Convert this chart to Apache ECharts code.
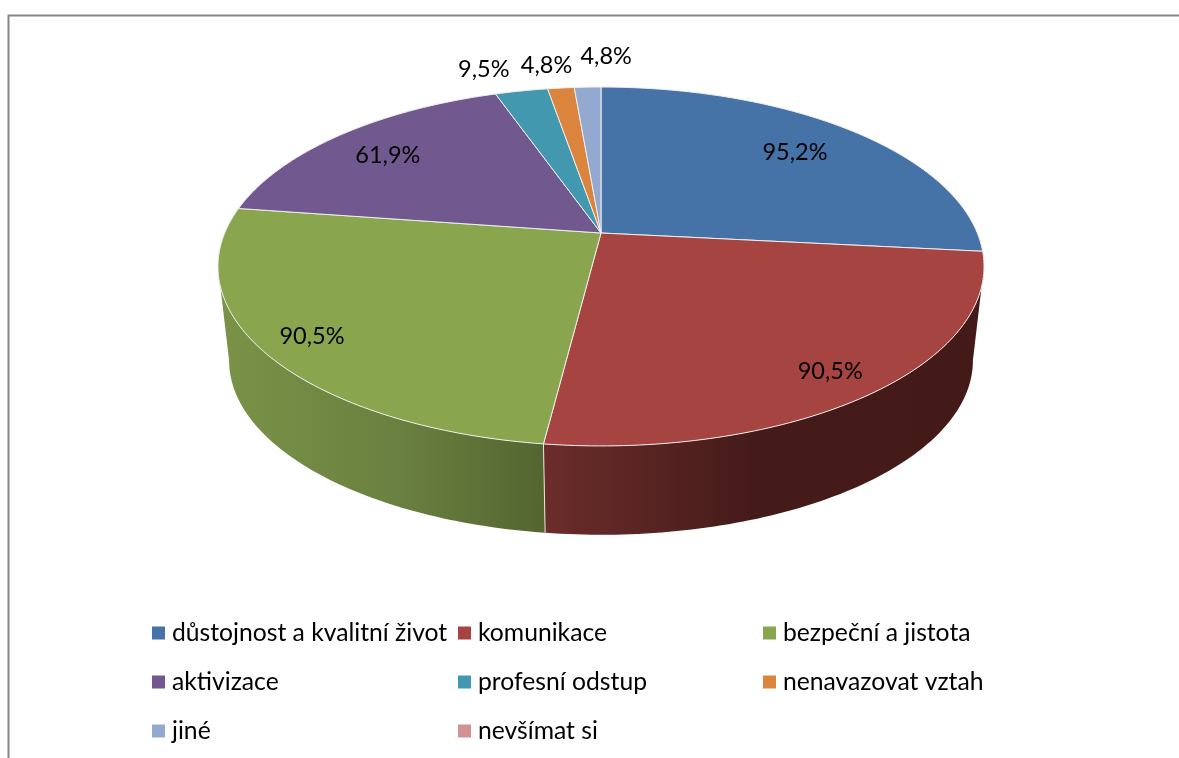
<!DOCTYPE html>
<html>
<head>
<meta charset="utf-8">
<title>pie</title>
<script src="https://cdn.jsdelivr.net/npm/echarts@6/dist/echarts.min.js"></script>
<style>
  html, body { margin: 0; padding: 0; background: #fff; }
  #main { width: 1179px; height: 758px; }
</style>
</head>
<body>
<div id="main"></div>
<script>
// data
const categories = ['důstojnost a kvalitní život', 'komunikace', 'bezpeční a jistota', 'aktivizace',
  'profesní odstup', 'nenavazovat vztah', 'jiné', 'nevšímat si'];
const percents = [95.2, 90.5, 90.5, 61.9, 9.5, 4.8, 4.8, 0];

// colours
const colors = ['#4572a7', '#a64442', '#89a54e', '#71588f', '#4198af', '#db843d', '#93a9cf', '#d19392'];
const wallStops = {
  1: [[0, '#6b2d2b'], [0.47, '#451b19'], [1, '#431a18']],
  2: [[0, '#7a9347'], [0.55, '#6a8040'], [1, '#546530']]
};

// label placement: radial position on the disc, then a small nudge in px
const labelRadius = [0.76, 0.87, 0.87, 0.805, 1.13, 1.13, 1.13];
const labelNudge = [[0, 0], [-4, 3], [0, 2], [0, 3], [-29, -6], [-10, -7], [20, -15]];

// projection of the tilted disc
const cx = 601, cy = 233, ax = 376.3, ay = 173.2, persp = 0.1866;
const wallScale = 0.971, wallDrop = 95;
const wallFrom = 100.7, wallTo = 259.3;

const total = percents.reduce((a, b) => a + b, 0);

function project(deg, r) {
  const t = deg * Math.PI / 180;
  const x = Math.sin(t) * r, y = -Math.cos(t) * r;
  const w = 1 - persp * y;
  return [cx + ax * x / w, cy + ay * y / w];
}
function projectBottom(deg) {
  const p = project(deg, 1);
  return [cx + (p[0] - cx) * wallScale, cy + wallDrop + (p[1] - cy) * wallScale];
}
function arc(from, to, fn) {
  const pts = [];
  const n = Math.max(2, Math.ceil(Math.abs(to - from)));
  for (let i = 0; i <= n; i++) pts.push(fn(from + (to - from) * i / n));
  return pts;
}

function renderSlice(params, api) {
  const idx = params.seriesIndex;
  const value = api.value(0);
  if (!value) return { type: 'group', children: [] };
  let before = 0;
  for (let i = 0; i < idx; i++) before += percents[i];
  const start = before / total * 360;
  const end = (before + value) / total * 360;
  const children = [];

  // side wall, only the part facing the viewer
  const a = Math.max(start, wallFrom), b = Math.min(end, wallTo);
  if (b > a) {
    const top = arc(a, b, d => project(d, 1));
    const bottom = arc(a, b, projectBottom).reverse();
    const stops = wallStops[idx].map(s => ({ offset: s[0], color: s[1] }));
    children.push({
      type: 'polygon',
      shape: { points: top.concat(bottom) },
      style: { fill: new echarts.graphic.LinearGradient(0, 0, 1, 0, stops) }
    });
    if (start >= wallFrom) {
      const p = project(start, 1), q = projectBottom(start);
      children.push({
        type: 'line',
        shape: { x1: p[0], y1: p[1], x2: q[0], y2: q[1] },
        style: { stroke: '#e8e4e0', lineWidth: 1 }
      });
    }
  }

  // top face
  children.push({
    type: 'polygon',
    z2: 5,
    shape: { points: [[cx, cy]].concat(arc(start, end, d => project(d, 1))) },
    style: { fill: colors[idx], stroke: '#eeeeee', lineWidth: 1, lineJoin: 'round' }
  });

  // value label
  const mid = (start + end) / 2;
  const lp = project(mid, labelRadius[idx]);
  children.push({
    type: 'text',
    z2: 10,
    style: {
      x: lp[0] + labelNudge[idx][0],
      y: lp[1] + labelNudge[idx][1],
      text: String(value).replace('.', ',') + '%',
      fill: '#000',
      font: '23.5px Lato',
      align: 'center',
      verticalAlign: 'middle'
    }
  });
  return { type: 'group', children: children };
}

function legendColumn(names, left) {
  return {
    data: names,
    orient: 'vertical',
    left: left,
    top: 619,
    padding: 0,
    itemGap: 21,
    itemWidth: 13,
    itemHeight: 13,
    icon: 'rect',
    selectedMode: false,
    textStyle: { fontFamily: 'Lato', fontSize: 24.7, color: '#000', lineHeight: 28, padding: [0, 0, 0, 2] }
  };
}

let myChart = echarts.init(document.getElementById('main'));
let option = {
  animation: false,
  backgroundColor: '#fff',
  graphic: [
    {
      type: 'polyline',
      silent: true,
      shape: { points: [[1179, 15.5], [8.5, 15.5], [8.5, 758]] },
      style: { stroke: '#868686', lineWidth: 2, fill: null }
    }
  ],
  legend: [
    legendColumn([categories[0], categories[3], categories[6]], 152),
    legendColumn([categories[1], categories[4], categories[7]], 458),
    legendColumn([categories[2], categories[5]], 763)
  ],
  series: categories.map((name, i) => ({
    name: name,
    type: 'custom',
    coordinateSystem: 'none',
    renderItem: renderSlice,
    itemStyle: { color: colors[i] },
    silent: true,
    data: [[percents[i]]]
  }))
};
myChart.setOption(option);
</script>
</body>
</html>
